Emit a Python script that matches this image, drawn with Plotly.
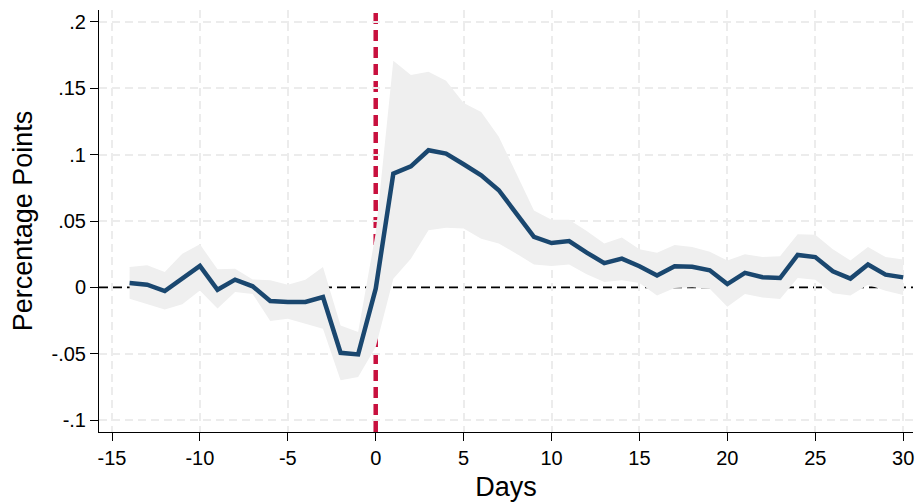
import plotly.graph_objects as go

days = list(range(-14, 31))
estimate = [0.0032, 0.0020, -0.0028, 0.0070, 0.0161, -0.0018, 0.0058, 0.0008, -0.0103, -0.0110,
            -0.0110, -0.0073, -0.0493, -0.0505, -0.0010, 0.0857, 0.0912, 0.1033, 0.1008, 0.0928,
            0.0845, 0.0732, 0.0556, 0.0380, 0.0334, 0.0349, 0.0262, 0.0183, 0.0216, 0.0159,
            0.0090, 0.0159, 0.0155, 0.0129, 0.0025, 0.0109, 0.0076, 0.0070, 0.0244, 0.0228,
            0.0121, 0.0066, 0.0172, 0.0096, 0.0075]
upper = [0.0153, 0.0166, 0.0116, 0.0254, 0.0324, 0.0136, 0.0140, 0.0060, 0.0053, 0.0020,
         0.0058, 0.0153, -0.0287, -0.0337, 0.0410, 0.1707, 0.1600, 0.1624, 0.1556, 0.1390,
         0.1322, 0.1134, 0.0857, 0.0580, 0.0510, 0.0510, 0.0425, 0.0330, 0.0375, 0.0287,
         0.0260, 0.0320, 0.0304, 0.0268, 0.0203, 0.0249, 0.0228, 0.0235, 0.0400, 0.0396,
         0.0287, 0.0203, 0.0304, 0.0228, 0.0210]
lower = [-0.0085, -0.0128, -0.0166, -0.0128, -0.0023, -0.0160, -0.0035, -0.0050, -0.0254, -0.0236,
         -0.0274, -0.0312, -0.0700, -0.0676, -0.0450, 0.0065, 0.0216, 0.0430, 0.0450, 0.0443,
         0.0367, 0.0330, 0.0254, 0.0173, 0.0161, 0.0173, 0.0098, 0.0040, 0.0053, 0.0032,
         -0.0062, -0.0005, 0.0000, -0.0010, -0.0146, -0.0051, -0.0077, -0.0087, 0.0070, 0.0058,
         -0.0044, -0.0062, 0.0020, -0.0026, -0.0057]

x_ticks = [-15, -10, -5, 0, 5, 10, 15, 20, 25, 30]
x_tick_labels = ["-15", "-10", "-5", "0", "5", "10", "15", "20", "25", "30"]
y_ticks = [-0.1, -0.05, 0, 0.05, 0.1, 0.15, 0.2]
y_tick_labels = ["-.1", "-.05", "0", ".05", ".1", ".15", ".2"]
event_day = 0
baseline = 0

x_grid = [v for v in x_ticks if v != event_day]
y_grid = [v for v in y_ticks if v != baseline]

fig = go.Figure()
fig.add_trace(go.Scatter(x=days, y=upper, mode="lines", line=dict(width=0),
                         hoverinfo="skip", showlegend=False))
fig.add_trace(go.Scatter(x=days, y=lower, mode="lines", line=dict(width=0),
                         fill="tonexty", fillcolor="#efefef", hoverinfo="skip", showlegend=False))
fig.add_trace(go.Scatter(x=days, y=estimate, mode="lines",
                         line=dict(color="#1a476f", width=4.5), showlegend=False))

fig.add_shape(type="line", xref="x", yref="paper", x0=event_day, x1=event_day, y0=0, y1=1,
              line=dict(color="#c8103e", width=4.5, dash="11px,6px"), layer="below")
fig.add_shape(type="line", xref="paper", yref="y", x0=0, x1=1, y0=baseline, y1=baseline,
              line=dict(color="black", width=1.8, dash="9px,5px"), layer="below")

grid_style = dict(showgrid=True, gridcolor="#ececec", gridwidth=1.5, griddash="8px,5px", ticks="")
font = "Liberation Sans, Arial, Helvetica, sans-serif"
fig.update_layout(
    width=917, height=502,
    margin=dict(l=99, r=4, t=10, b=70),
    paper_bgcolor="white", plot_bgcolor="white",
    font=dict(family=font, color="black", size=20),
    xaxis=dict(range=[-15.74, 30.56], tickvals=x_ticks, ticktext=x_tick_labels,
               ticks="outside", ticklen=8,
               tickcolor="black", showline=True, linecolor="black", linewidth=1,
               showgrid=False, minor=dict(tickvals=x_grid, **grid_style),
               zeroline=False, tickfont=dict(size=20),
               title=dict(text="Days", font=dict(size=27), standoff=9)),
    yaxis=dict(range=[-0.109, 0.209], tickvals=y_ticks, ticktext=y_tick_labels,
               ticks="outside", ticklen=8, tickcolor="black", showline=True,
               linecolor="black", linewidth=1,
               showgrid=False, minor=dict(tickvals=y_grid, **grid_style),
               zeroline=False, tickfont=dict(size=20),
               title=dict(text="Percentage Points", font=dict(size=27), standoff=11)),
)

fig.write_html("out.html", config={"displayModeBar": False},
               post_script="document.body.style.margin='0';")
